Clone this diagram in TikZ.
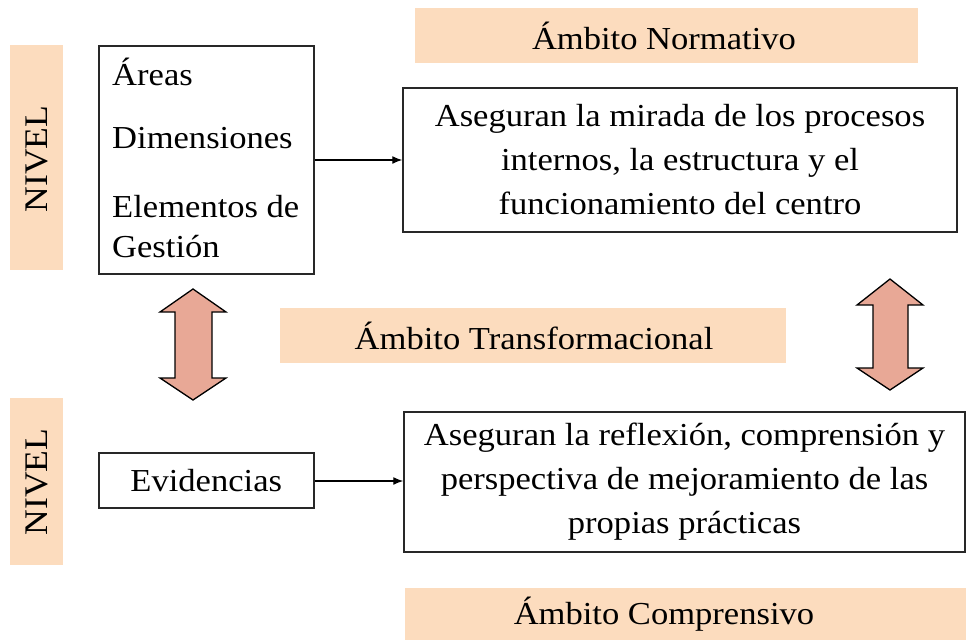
\documentclass[tikz,border=0pt]{standalone}
\usepackage{fontspec}
\setmainfont[FakeStretch=1.08]{Liberation Serif}
\usetikzlibrary{arrows.meta}
\definecolor{peach}{RGB}{252,220,190}
\definecolor{salmon}{RGB}{232,168,150}
\definecolor{boxline}{RGB}{40,40,40}
\tikzset{
  mainfont/.style={font=\fontsize{32}{44}\selectfont},
  textbox/.style={draw=boxline, line width=1.5pt, fill=white, inner sep=0pt, align=center, mainfont},
  conn/.style={line width=1.3pt, -{Latex[length=10pt,width=8pt]}},
  dblarrow/.style={fill=salmon, draw=black, line width=1.3pt, line join=miter},
  lbl/.style={mainfont, inner sep=0pt},
  nivel/.style={font=\fontsize{33}{40}\selectfont, rotate=90, inner sep=0pt},
}
\begin{document}
\begin{tikzpicture}[x=1pt, y=-1pt]
\useasboundingbox (0,0) rectangle (966,640);
% peach bands
\fill[peach] (10,45) rectangle (63,270);
\fill[peach] (10,398) rectangle (63,565);
\fill[peach] (415,8) rectangle (918,63);
\fill[peach] (280,308) rectangle (786,363);
\fill[peach] (405,588) rectangle (966,640);
% band labels
\node[nivel] (nivel1) at (37,159) {NIVEL};
\node[nivel] (nivel2) at (37,482) {NIVEL};
\node[lbl] (normativo) at (664,36) {Ámbito Normativo};
\node[lbl] (transf) at (534,336) {Ámbito Transformacional};
\node[lbl] (compr) at (664,614) {Ámbito Comprensivo};
% box 1
\node[textbox, minimum width=215pt, minimum height=228pt, anchor=north west] (b1) at (98,45) {};
\node[lbl, anchor=base west] (t1) at (112,85) {Áreas};
\node[lbl, anchor=base west] (t2) at (112,148) {Dimensiones};
\node[lbl, anchor=base west] (t3) at (112,217) {Elementos de};
\node[lbl, anchor=base west] (t4) at (112,257) {Gestión};
% top right box
\node[textbox, minimum width=554pt, minimum height=144pt] (b2) at (680,160)
  {Aseguran la mirada de los procesos\\internos, la estructura y el\\funcionamiento del centro};
% evidencias box
\node[textbox, minimum width=215pt, minimum height=55pt, anchor=north west] (b3) at (98,452) {Evidencias};
% bottom right box
\node[textbox, minimum width=561pt, minimum height=140pt] (b4) at (684.5,482)
  {Aseguran la reflexión, comprensión y\\perspectiva de mejoramiento de las\\propias prácticas};
% connectors
\draw[conn] (b1.east |- 0,160) -- (b2.west |- 0,160);
\draw[conn] (b3.east |- 0,481) -- (b4.west |- 0,481);
% double arrows
\draw[dblarrow] (193,289) -- (226,312) -- (212,312) -- (212,378) -- (226,378) -- (193,400)
  -- (160,378) -- (175,378) -- (175,312) -- (160,312) -- cycle;
\draw[dblarrow] (890,279) -- (923,305) -- (908,305) -- (908,368) -- (923,368) -- (890,390)
  -- (857,368) -- (873,368) -- (873,305) -- (857,305) -- cycle;
\end{tikzpicture}
\end{document}
